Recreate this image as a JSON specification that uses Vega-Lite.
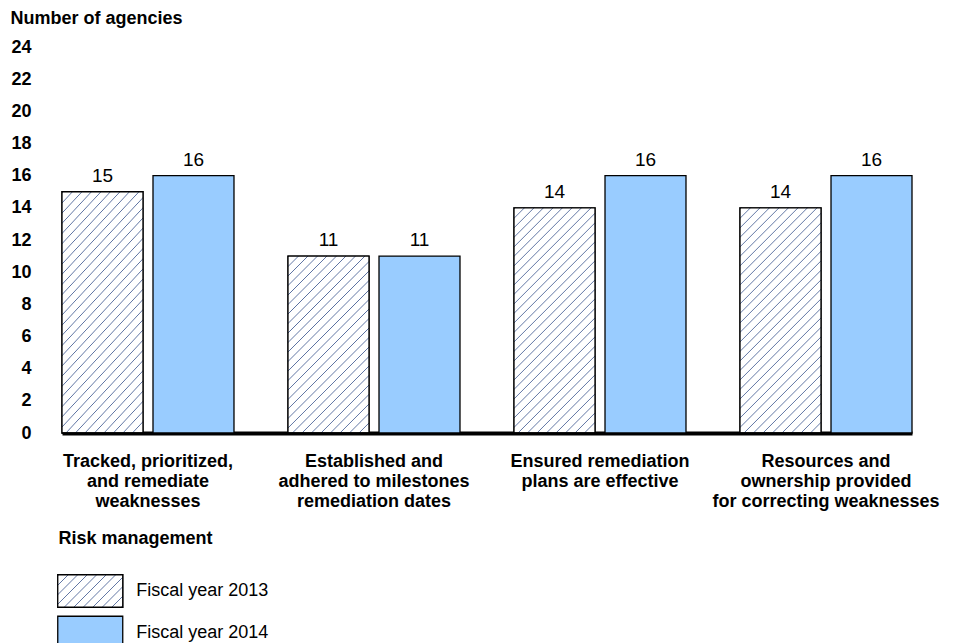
{
  "$schema": "https://vega.github.io/schema/vega-lite/v6.json",
  "width": 850,
  "height": 386,
  "autosize": {"type": "none"},
  "padding": {"left": 62, "top": 47, "right": 49, "bottom": 210},
  "config": {"view": {"stroke": null}, "font": "Liberation Sans"},
  "data": {
    "values": [
      {"category": "Tracked, prioritized,|and remediate|weaknesses", "year": "Fiscal year 2013", "value": 15},
      {"category": "Tracked, prioritized,|and remediate|weaknesses", "year": "Fiscal year 2014", "value": 16},
      {"category": "Established and|adhered to milestones|remediation dates", "year": "Fiscal year 2013", "value": 11},
      {"category": "Established and|adhered to milestones|remediation dates", "year": "Fiscal year 2014", "value": 11},
      {"category": "Ensured remediation|plans are effective", "year": "Fiscal year 2013", "value": 14},
      {"category": "Ensured remediation|plans are effective", "year": "Fiscal year 2014", "value": 16},
      {"category": "Resources and|ownership provided|for correcting weaknesses", "year": "Fiscal year 2013", "value": 14},
      {"category": "Resources and|ownership provided|for correcting weaknesses", "year": "Fiscal year 2014", "value": 16}
    ]
  },
  "encoding": {
    "x": {
      "field": "category", "type": "nominal", "sort": null,
      "scale": {"paddingInner": 0.239, "paddingOuter": 0},
      "axis": {
        "title": "Risk management", "labelAngle": 0,
        "labelExpr": "split(datum.label, '|')",
        "labelFontWeight": "bold", "labelFontSize": 18, "labelColor": "#000",
        "labelLineHeight": 20, "labelBaseline": "alphabetic", "labelPadding": 33,
        "labelLimit": 400, "labelOverlap": false,
        "ticks": false, "domainColor": "#000", "domainWidth": 4,
        "titleFontSize": 18, "titleFontWeight": "bold", "titleColor": "#000",
        "titleX": -4, "titleY": 110, "titleAlign": "left", "titleBaseline": "alphabetic", "titleAnchor": "start"
      }
    },
    "xOffset": {"field": "year", "type": "nominal", "scale": {"paddingInner": 0.11, "paddingOuter": 0}},
    "y": {
      "field": "value", "type": "quantitative",
      "scale": {"domain": [0, 24]},
      "axis": {
        "title": "Number of agencies", "titleAngle": 0, "titleAlign": "left",
        "titleX": -52, "titleY": -24, "titleBaseline": "alphabetic",
        "titleFontSize": 18, "titleFontWeight": "bold", "titleColor": "#000",
        "values": [0, 2, 4, 6, 8, 10, 12, 14, 16, 18, 20, 22, 24],
        "labelFontSize": 18, "labelFontWeight": "bold", "labelColor": "#000",
        "labelPadding": 31, "ticks": false, "domain": false, "grid": false, "labelOverlap": false
      }
    }
  },
  "layer": [
    {
      "mark": {"type": "bar", "stroke": "#000", "strokeWidth": 1.3},
      "encoding": {
        "fill": {
          "field": "year", "type": "nominal",
          "scale": {"range": ["#ffffff", "#99ccff"]},
          "legend": {
            "title": null, "orient": "none", "legendX": 11.25, "legendY": 527,
            "symbolType": "M-2,-1H2V1H-2Z", "symbolSize": 1056,
            "symbolStrokeWidth": 1.3, "symbolOpacity": 1,
            "labelFontSize": 18, "labelColor": "#000", "labelOffset": 29, "rowPadding": 3.5
          }
        }
      }
    },
    {
      "transform": [{"filter": "datum.year === 'Fiscal year 2013'"}],
      "mark": {"type": "bar", "stroke": "#000", "strokeWidth": 1.3},
      "encoding": {
        "fill": {
          "condition": {
            "test": "indexof(datum.category, 'Established') === 0",
            "value": {"gradient": "linear", "x1": 0, "y1": 0, "x2": 0.812, "y2": 1.775, "stops": [
              {"offset": 0, "color": "#fff"}, {"offset": 0.0025, "color": "#5a70a0"}, {"offset": 0.005, "color": "#fff"},
              {"offset": 0.025, "color": "#fff"}, {"offset": 0.0275, "color": "#5a70a0"}, {"offset": 0.03, "color": "#fff"},
              {"offset": 0.05, "color": "#fff"}, {"offset": 0.0525, "color": "#5a70a0"}, {"offset": 0.055, "color": "#fff"},
              {"offset": 0.075, "color": "#fff"}, {"offset": 0.0775, "color": "#5a70a0"}, {"offset": 0.08, "color": "#fff"},
              {"offset": 0.1, "color": "#fff"}, {"offset": 0.1025, "color": "#5a70a0"}, {"offset": 0.105, "color": "#fff"},
              {"offset": 0.125, "color": "#fff"}, {"offset": 0.1275, "color": "#5a70a0"}, {"offset": 0.13, "color": "#fff"},
              {"offset": 0.15, "color": "#fff"}, {"offset": 0.1525, "color": "#5a70a0"}, {"offset": 0.155, "color": "#fff"},
              {"offset": 0.175, "color": "#fff"}, {"offset": 0.1775, "color": "#5a70a0"}, {"offset": 0.18, "color": "#fff"},
              {"offset": 0.2, "color": "#fff"}, {"offset": 0.2025, "color": "#5a70a0"}, {"offset": 0.205, "color": "#fff"},
              {"offset": 0.225, "color": "#fff"}, {"offset": 0.2275, "color": "#5a70a0"}, {"offset": 0.23, "color": "#fff"},
              {"offset": 0.25, "color": "#fff"}, {"offset": 0.2525, "color": "#5a70a0"}, {"offset": 0.255, "color": "#fff"},
              {"offset": 0.275, "color": "#fff"}, {"offset": 0.2775, "color": "#5a70a0"}, {"offset": 0.28, "color": "#fff"},
              {"offset": 0.3, "color": "#fff"}, {"offset": 0.3025, "color": "#5a70a0"}, {"offset": 0.305, "color": "#fff"},
              {"offset": 0.325, "color": "#fff"}, {"offset": 0.3275, "color": "#5a70a0"}, {"offset": 0.33, "color": "#fff"},
              {"offset": 0.35, "color": "#fff"}, {"offset": 0.3525, "color": "#5a70a0"}, {"offset": 0.355, "color": "#fff"},
              {"offset": 0.375, "color": "#fff"}, {"offset": 0.3775, "color": "#5a70a0"}, {"offset": 0.38, "color": "#fff"},
              {"offset": 0.4, "color": "#fff"}, {"offset": 0.4025, "color": "#5a70a0"}, {"offset": 0.405, "color": "#fff"},
              {"offset": 0.425, "color": "#fff"}, {"offset": 0.4275, "color": "#5a70a0"}, {"offset": 0.43, "color": "#fff"},
              {"offset": 0.45, "color": "#fff"}, {"offset": 0.4525, "color": "#5a70a0"}, {"offset": 0.455, "color": "#fff"},
              {"offset": 0.475, "color": "#fff"}, {"offset": 0.4775, "color": "#5a70a0"}, {"offset": 0.48, "color": "#fff"},
              {"offset": 0.5, "color": "#fff"}, {"offset": 0.5025, "color": "#5a70a0"}, {"offset": 0.505, "color": "#fff"},
              {"offset": 0.525, "color": "#fff"}, {"offset": 0.5275, "color": "#5a70a0"}, {"offset": 0.53, "color": "#fff"},
              {"offset": 0.55, "color": "#fff"}, {"offset": 0.5525, "color": "#5a70a0"}, {"offset": 0.555, "color": "#fff"},
              {"offset": 0.575, "color": "#fff"}, {"offset": 0.5775, "color": "#5a70a0"}, {"offset": 0.58, "color": "#fff"},
              {"offset": 0.6, "color": "#fff"}, {"offset": 0.6025, "color": "#5a70a0"}, {"offset": 0.605, "color": "#fff"},
              {"offset": 0.625, "color": "#fff"}, {"offset": 0.6275, "color": "#5a70a0"}, {"offset": 0.63, "color": "#fff"},
              {"offset": 0.65, "color": "#fff"}, {"offset": 0.6525, "color": "#5a70a0"}, {"offset": 0.655, "color": "#fff"},
              {"offset": 0.675, "color": "#fff"}, {"offset": 0.6775, "color": "#5a70a0"}, {"offset": 0.68, "color": "#fff"},
              {"offset": 1, "color": "#fff"}
            ]}
          },
          "value": {"gradient": "linear", "x1": 0, "y1": 0, "x2": 0.538, "y2": 1.495, "stops": [
            {"offset": 0, "color": "#fff"}, {"offset": 0.0025, "color": "#5a70a0"}, {"offset": 0.005, "color": "#fff"},
            {"offset": 0.025, "color": "#fff"}, {"offset": 0.0275, "color": "#5a70a0"}, {"offset": 0.03, "color": "#fff"},
            {"offset": 0.05, "color": "#fff"}, {"offset": 0.0525, "color": "#5a70a0"}, {"offset": 0.055, "color": "#fff"},
            {"offset": 0.075, "color": "#fff"}, {"offset": 0.0775, "color": "#5a70a0"}, {"offset": 0.08, "color": "#fff"},
            {"offset": 0.1, "color": "#fff"}, {"offset": 0.1025, "color": "#5a70a0"}, {"offset": 0.105, "color": "#fff"},
            {"offset": 0.125, "color": "#fff"}, {"offset": 0.1275, "color": "#5a70a0"}, {"offset": 0.13, "color": "#fff"},
            {"offset": 0.15, "color": "#fff"}, {"offset": 0.1525, "color": "#5a70a0"}, {"offset": 0.155, "color": "#fff"},
            {"offset": 0.175, "color": "#fff"}, {"offset": 0.1775, "color": "#5a70a0"}, {"offset": 0.18, "color": "#fff"},
            {"offset": 0.2, "color": "#fff"}, {"offset": 0.2025, "color": "#5a70a0"}, {"offset": 0.205, "color": "#fff"},
            {"offset": 0.225, "color": "#fff"}, {"offset": 0.2275, "color": "#5a70a0"}, {"offset": 0.23, "color": "#fff"},
            {"offset": 0.25, "color": "#fff"}, {"offset": 0.2525, "color": "#5a70a0"}, {"offset": 0.255, "color": "#fff"},
            {"offset": 0.275, "color": "#fff"}, {"offset": 0.2775, "color": "#5a70a0"}, {"offset": 0.28, "color": "#fff"},
            {"offset": 0.3, "color": "#fff"}, {"offset": 0.3025, "color": "#5a70a0"}, {"offset": 0.305, "color": "#fff"},
            {"offset": 0.325, "color": "#fff"}, {"offset": 0.3275, "color": "#5a70a0"}, {"offset": 0.33, "color": "#fff"},
            {"offset": 0.35, "color": "#fff"}, {"offset": 0.3525, "color": "#5a70a0"}, {"offset": 0.355, "color": "#fff"},
            {"offset": 0.375, "color": "#fff"}, {"offset": 0.3775, "color": "#5a70a0"}, {"offset": 0.38, "color": "#fff"},
            {"offset": 0.4, "color": "#fff"}, {"offset": 0.4025, "color": "#5a70a0"}, {"offset": 0.405, "color": "#fff"},
            {"offset": 0.425, "color": "#fff"}, {"offset": 0.4275, "color": "#5a70a0"}, {"offset": 0.43, "color": "#fff"},
            {"offset": 0.45, "color": "#fff"}, {"offset": 0.4525, "color": "#5a70a0"}, {"offset": 0.455, "color": "#fff"},
            {"offset": 0.475, "color": "#fff"}, {"offset": 0.4775, "color": "#5a70a0"}, {"offset": 0.48, "color": "#fff"},
            {"offset": 0.5, "color": "#fff"}, {"offset": 0.5025, "color": "#5a70a0"}, {"offset": 0.505, "color": "#fff"},
            {"offset": 0.525, "color": "#fff"}, {"offset": 0.5275, "color": "#5a70a0"}, {"offset": 0.53, "color": "#fff"},
            {"offset": 0.55, "color": "#fff"}, {"offset": 0.5525, "color": "#5a70a0"}, {"offset": 0.555, "color": "#fff"},
            {"offset": 0.575, "color": "#fff"}, {"offset": 0.5775, "color": "#5a70a0"}, {"offset": 0.58, "color": "#fff"},
            {"offset": 0.6, "color": "#fff"}, {"offset": 0.6025, "color": "#5a70a0"}, {"offset": 0.605, "color": "#fff"},
            {"offset": 0.625, "color": "#fff"}, {"offset": 0.6275, "color": "#5a70a0"}, {"offset": 0.63, "color": "#fff"},
            {"offset": 0.65, "color": "#fff"}, {"offset": 0.6525, "color": "#5a70a0"}, {"offset": 0.655, "color": "#fff"},
            {"offset": 0.675, "color": "#fff"}, {"offset": 0.6775, "color": "#5a70a0"}, {"offset": 0.68, "color": "#fff"},
            {"offset": 0.7, "color": "#fff"}, {"offset": 0.7025, "color": "#5a70a0"}, {"offset": 0.705, "color": "#fff"},
            {"offset": 0.725, "color": "#fff"}, {"offset": 0.7275, "color": "#5a70a0"}, {"offset": 0.73, "color": "#fff"},
            {"offset": 0.75, "color": "#fff"}, {"offset": 0.7525, "color": "#5a70a0"}, {"offset": 0.755, "color": "#fff"},
            {"offset": 0.775, "color": "#fff"}, {"offset": 0.7775, "color": "#5a70a0"}, {"offset": 0.78, "color": "#fff"},
            {"offset": 0.8, "color": "#fff"}, {"offset": 0.8025, "color": "#5a70a0"}, {"offset": 0.805, "color": "#fff"},
            {"offset": 1, "color": "#fff"}
          ]}
        }
      }
    },
    {
      "transform": [{"filter": "datum.year === 'Fiscal year 2013'"}],
      "mark": {"type": "bar", "stroke": "#000", "strokeWidth": 1.3},
      "encoding": {
        "y": {"datum": 0, "type": "quantitative"},
        "strokeDash": {
          "field": "year", "type": "nominal",
          "scale": {"domain": ["Fiscal year 2013"], "range": [[1, 0]]},
          "legend": {
            "title": null, "orient": "none", "legendX": 11.25, "legendY": 527,
            "symbolType": "M-2,-1H2V1H-2Z", "symbolSize": 1056,
            "symbolStrokeWidth": 1.3, "symbolOpacity": 1,
            "labelExpr": "''", "labelFontSize": 18, "labelOffset": 29, "rowPadding": 3.5
          }
        },
        "fill": {"value": {"gradient": "linear", "x1": 0, "y1": 0, "x2": 4.677, "y2": 2.339, "stops": [
          {"offset": 0, "color": "#fff"}, {"offset": 0.0025, "color": "#5a70a0"}, {"offset": 0.005, "color": "#fff"},
          {"offset": 0.025, "color": "#fff"}, {"offset": 0.0275, "color": "#5a70a0"}, {"offset": 0.03, "color": "#fff"},
          {"offset": 0.05, "color": "#fff"}, {"offset": 0.0525, "color": "#5a70a0"}, {"offset": 0.055, "color": "#fff"},
          {"offset": 0.075, "color": "#fff"}, {"offset": 0.0775, "color": "#5a70a0"}, {"offset": 0.08, "color": "#fff"},
          {"offset": 0.1, "color": "#fff"}, {"offset": 0.1025, "color": "#5a70a0"}, {"offset": 0.105, "color": "#fff"},
          {"offset": 0.125, "color": "#fff"}, {"offset": 0.1275, "color": "#5a70a0"}, {"offset": 0.13, "color": "#fff"},
          {"offset": 0.15, "color": "#fff"}, {"offset": 0.1525, "color": "#5a70a0"}, {"offset": 0.155, "color": "#fff"},
          {"offset": 0.175, "color": "#fff"}, {"offset": 0.1775, "color": "#5a70a0"}, {"offset": 0.18, "color": "#fff"},
          {"offset": 0.2, "color": "#fff"}, {"offset": 0.2025, "color": "#5a70a0"}, {"offset": 0.205, "color": "#fff"},
          {"offset": 0.225, "color": "#fff"}, {"offset": 0.2275, "color": "#5a70a0"}, {"offset": 0.23, "color": "#fff"},
          {"offset": 0.25, "color": "#fff"}, {"offset": 0.2525, "color": "#5a70a0"}, {"offset": 0.255, "color": "#fff"},
          {"offset": 1, "color": "#fff"}
        ]}}
      }
    },
    {
      "mark": {"type": "text", "baseline": "alphabetic", "dy": -10, "fontSize": 19, "color": "#000"},
      "encoding": {"text": {"field": "value", "type": "quantitative"}}
    }
  ]
}
